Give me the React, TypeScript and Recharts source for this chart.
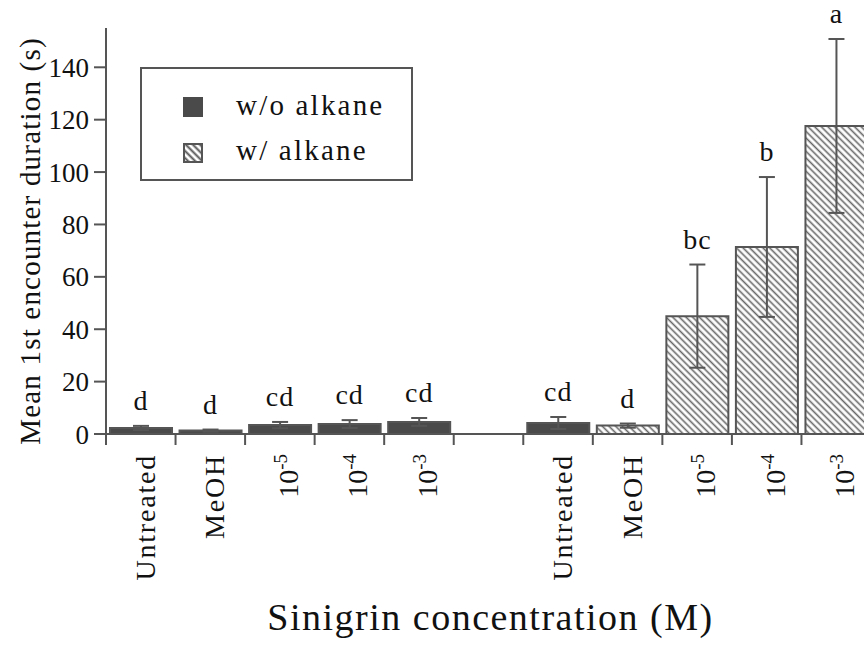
import React from "react";
import { BarChart, Bar, XAxis, YAxis, ErrorBar, Cell, LabelList, Legend } from "recharts";

// treatment groups: without alkane (left), with alkane (right); "" is the spacer slot
const categories = ["Untreated", "MeOH", "10^-5", "10^-4", "10^-3", "", "Untreated", "MeOH", "10^-5", "10^-4", "10^-3"];
const meanDuration = [2.3, 1.3, 3.4, 3.8, 4.6, null, 4.2, 3.2, 45.0, 71.4, 117.6];
const stdError = [0.8, 0.4, 1.2, 1.5, 1.5, null, 2.3, 0.8, 19.7, 26.7, 33.2];
const significance = ["d", "d", "cd", "cd", "cd", "", "cd", "d", "bc", "b", "a"];
const withAlkane = [false, false, false, false, false, false, false, true, true, true, true];
const yTicks = [0, 20, 40, 60, 80, 100, 120, 140];
const legendLabels = ["w/o alkane", "w/ alkane"];

const data = categories.map((label, i) => ({
  id: `c${i}`,
  label,
  mean: meanDuration[i],
  err: stdError[i],
}));

const FONT = "'Liberation Serif', 'Times New Roman', serif";
const INK = "#111";
const LINE = "#555";
const DARK = "#4a4a4a";

const W = 871;
const H = 651;
const TOP = 28;
const Y_AXIS_W = 106;
const X_AXIS_H = 217;
const Y_MAX = 155;
const PLOT_H = H - TOP - X_AXIS_H;
const PPU = PLOT_H / Y_MAX;
const ZERO_Y = TOP + PLOT_H;
const BAND = (W - Y_AXIS_W) / categories.length;

const idx = (id: string) => Number(String(id).slice(1));

function CategoryTick(props: any) {
  const { x, y, payload } = props;
  const label = categories[idx(payload.value)] ?? "";
  const left = x - BAND / 2;
  const [base, exp] = label.split("^");
  return (
    <g>
      <line x1={left} y1={y} x2={left} y2={y + 11} stroke={LINE} strokeWidth={2} />
      {label && (
        <text
          transform={`translate(${x + (exp ? 18 : 14)},${y + 20}) rotate(-90)`}
          textAnchor="end"
          fontFamily={FONT}
          fontSize={28}
          letterSpacing={exp ? 0 : 1.8}
          fill={INK}
        >
          {base}
          {exp && (
            <tspan dy={-11} fontSize={19}>
              {exp}
            </tspan>
          )}
        </text>
      )}
    </g>
  );
}

function LetterLabel(props: any) {
  const { x, width, value } = props;
  const i = idx(value);
  const letter = significance[i];
  if (!letter) return null;
  const top = ZERO_Y - ((meanDuration[i] ?? 0) + (stdError[i] ?? 0)) * PPU;
  return (
    <text x={x + width / 2} y={top - 16} textAnchor="middle" fontFamily={FONT} fontSize={28} letterSpacing={1} fill={INK}>
      {letter}
    </text>
  );
}

function YTitle() {
  return (
    <text
      transform={`translate(40,${TOP + PLOT_H / 2 + 10}) rotate(-90)`}
      textAnchor="middle"
      fontFamily={FONT}
      fontSize={29}
      letterSpacing={1.2}
      fill={INK}
    >
      Mean 1st encounter duration (s)
    </text>
  );
}

function XTitle() {
  return (
    <text x={(Y_AXIS_W + W) / 2 + 2} y={630} textAnchor="middle" fontFamily={FONT} fontSize={38} letterSpacing={1.5} fill={INK}>
      Sinigrin concentration (M)
    </text>
  );
}

function LegendBox() {
  return (
    <svg width={273} height={114}>
      <defs>
        <pattern id="legendHatch" patternUnits="userSpaceOnUse" width={5} height={5} patternTransform="rotate(45)">
          <line x1={0} y1={2.5} x2={5} y2={2.5} stroke={LINE} strokeWidth={2} />
        </pattern>
      </defs>
      <rect x={1} y={1} width={271} height={112} fill="#fff" stroke={LINE} strokeWidth={2} />
      <rect x={43} y={30} width={20} height={20} fill={DARK} />
      <text x={96} y={48} fontFamily={FONT} fontSize={29} letterSpacing={2.2} fill={INK}>
        {legendLabels[0]}
      </text>
      <rect x={44} y={77} width={18} height={18} fill="url(#legendHatch)" stroke={LINE} strokeWidth={2} />
      <text x={96} y={93} fontFamily={FONT} fontSize={29} letterSpacing={2.2} fill={INK}>
        {legendLabels[1]}
      </text>
    </svg>
  );
}

export default function App() {
  return (
    <div style={{ position: "absolute", left: 0, top: 0, width: 864, height: 651, overflow: "hidden", background: "#fff" }}>
      <BarChart width={W} height={H} data={data} margin={{ top: TOP, right: 0, left: 0, bottom: 0 }} barCategoryGap={4}>
        <defs>
          <pattern id="hatch" patternUnits="userSpaceOnUse" width={4.7} height={4.7} patternTransform="rotate(45)">
            <rect width={4.7} height={4.7} fill="#fff" />
            <line x1={0} y1={2.35} x2={4.7} y2={2.35} stroke="#666" strokeWidth={1.6} />
          </pattern>
        </defs>
        <XAxis
          dataKey="id"
          type="category"
          interval={0}
          height={X_AXIS_H}
          tickSize={0}
          tickMargin={0}
          tickLine={false}
          axisLine={{ stroke: LINE, strokeWidth: 2 }}
          tick={(p: any) => <CategoryTick {...p} />}
          label={<XTitle />}
        />
        <YAxis
          type="number"
          domain={[0, Y_MAX]}
          ticks={yTicks}
          width={Y_AXIS_W}
          tickSize={12}
          tickMargin={5}
          axisLine={{ stroke: LINE, strokeWidth: 2 }}
          tickLine={{ stroke: LINE, strokeWidth: 2 }}
          tick={{ fill: INK, fontSize: 27, fontFamily: FONT }}
          label={<YTitle />}
        />
        <Legend
          layout="horizontal"
          verticalAlign="middle"
          align="center"
          width={273}
          height={114}
          wrapperStyle={{ left: 140, top: 67, width: 273, height: 114 }}
          content={() => <LegendBox />}
        />
        <Bar dataKey="mean" stroke={LINE} strokeWidth={2} isAnimationActive={false}>
          {data.map((d, i) => (
            <Cell key={d.id} fill={withAlkane[i] ? "url(#hatch)" : DARK} />
          ))}
          <ErrorBar dataKey="err" width={8} stroke={LINE} strokeWidth={2} direction="y" isAnimationActive={false} />
          <LabelList dataKey="id" content={(p: any) => <LetterLabel {...p} />} />
        </Bar>
      </BarChart>
    </div>
  );
}
